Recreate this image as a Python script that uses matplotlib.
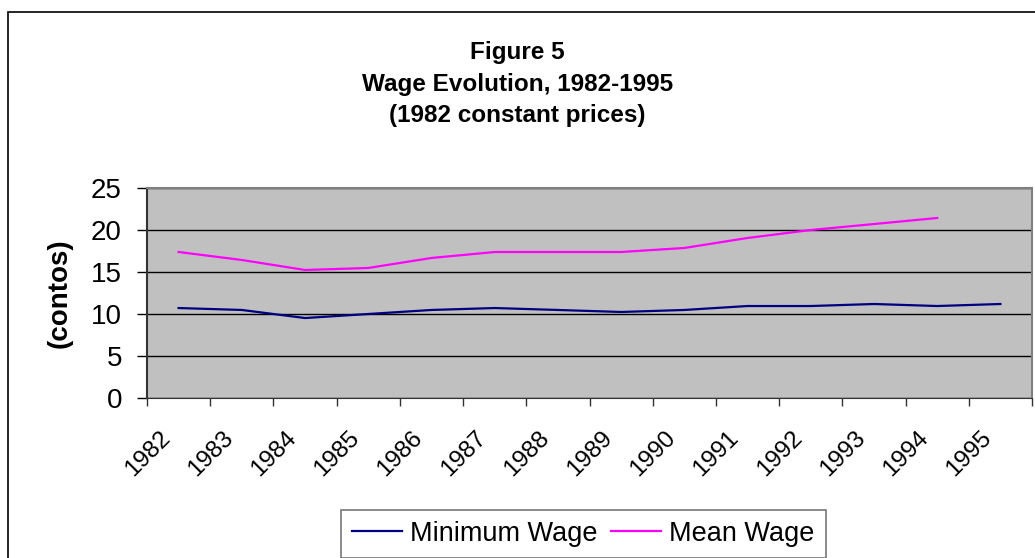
import numpy as np
import matplotlib.pyplot as plt
import matplotlib.transforms as mtransforms
from matplotlib.patches import Rectangle

years = ['1982', '1983', '1984', '1985', '1986', '1987', '1988',
         '1989', '1990', '1991', '1992', '1993', '1994', '1995']
min_wage = [10.71, 10.48, 9.52, 10.0, 10.48, 10.71, 10.48,
            10.24, 10.48, 10.95, 10.95, 11.19, 10.95, 11.19]
mean_wage = [17.38, 16.43, 15.24, 15.48, 16.67, 17.38, 17.38,
             17.38, 17.86, 19.05, 20.0, 20.71, 21.43, np.nan]

plt.rcParams['font.family'] = ['Liberation Sans', 'DejaVu Sans']

fig = plt.figure(figsize=(10.35, 5.58), dpi=100)
# outer chart border (only left and top visible)
fig.patches.append(Rectangle((8 / 1035, -0.1), 1.2, 1 - 12 / 558 + 0.1,
                             transform=fig.transFigure, fill=False,
                             edgecolor='black', linewidth=1.2))

ax = fig.add_axes([147 / 1035, 1 - 398 / 558, (1032 - 147) / 1035, (398 - 188) / 558])
ax.set_facecolor('#C0C0C0')

x = np.arange(len(years))
ax.plot(x, min_wage, color='#000080', lw=1.6, label='Minimum Wage')
ax.plot(x, mean_wage, color='#FF00FF', lw=1.6, label='Mean Wage')

ax.set_xlim(-0.5, len(years) - 0.5)
ax.set_ylim(0, 25)
ax.set_yticks(range(0, 26, 5))
ax.yaxis.grid(True, color='black', lw=1)
ax.set_axisbelow(True)
ax.tick_params(axis='y', labelsize=20, length=7, width=1, pad=11)

ax.set_xticks(x)
ax.set_xticklabels(years, rotation=45, ha='right', va='center',
                   rotation_mode='anchor', fontsize=17.5)
ax.tick_params(axis='x', which='major', length=0, pad=26.5)
ax.set_xticks(np.arange(-0.5, len(years)), minor=True)
ax.tick_params(axis='x', which='minor', length=6, width=1, color='#333333')
shift = mtransforms.ScaledTranslation(-0.12, 0, fig.dpi_scale_trans)
for lab in ax.get_xticklabels():
    lab.set_transform(lab.get_transform() + shift)

for s in ['top', 'right']:
    ax.spines[s].set_color('#808080')
    ax.spines[s].set_linewidth(1.5)
ax.spines['left'].set_color('#333333')
ax.spines['left'].set_linewidth(1.5)
ax.spines['bottom'].set_color('#333333')

ax.set_ylabel('(contos)', fontsize=20, fontweight='bold')
ax.yaxis.set_label_coords((73 - 147) / 885, 0.5)

fig.text(0.5, 1 - 59 / 558, 'Figure 5', ha='center', va='baseline', fontsize=17.5, fontweight='bold')
fig.text(0.5, 1 - 91 / 558, 'Wage Evolution, 1982-1995', ha='center', va='baseline', fontsize=17.5, fontweight='bold')
fig.text(0.5, 1 - 122 / 558, '(1982 constant prices)', ha='center', va='baseline', fontsize=17.5, fontweight='bold')

leg = fig.legend(loc='upper left', bbox_to_anchor=(341 / 1035, 1 - 510 / 558), ncol=2,
                 fontsize=19.5, frameon=True, fancybox=False, edgecolor='#555555',
                 handlelength=1.85, handletextpad=0.3, columnspacing=0.5,
                 borderpad=0.4, borderaxespad=0)
leg.get_frame().set_linewidth(1.2)

fig.savefig('out.png', dpi=100)
